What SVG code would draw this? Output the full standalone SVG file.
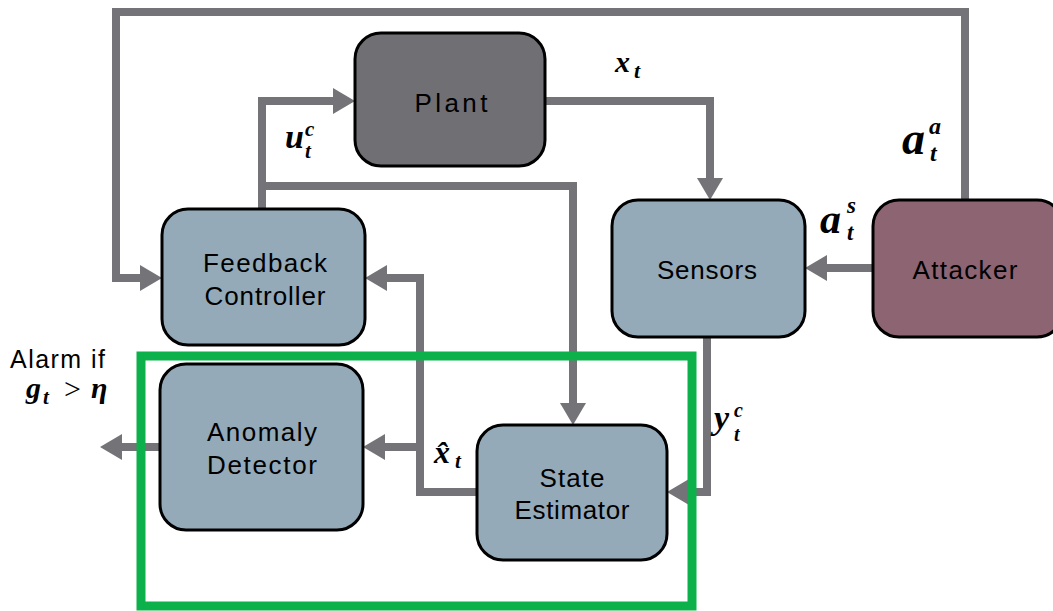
<svg xmlns="http://www.w3.org/2000/svg" width="1053" height="611" viewBox="0 0 1053 611">
<defs>
<style>
.box{stroke:#000;stroke-width:3}
.blue{fill:#94aab9}
.lbl{font-family:"Liberation Sans",Arial,sans-serif;font-size:26px;fill:#000;text-anchor:middle}
.m{font-family:"Liberation Serif","DejaVu Serif",serif;font-style:italic;font-weight:bold;fill:#000}
.c{fill:none;stroke:#747378;stroke-width:8;stroke-linejoin:miter}
</style>
<marker id="ah" markerUnits="userSpaceOnUse" markerWidth="22" markerHeight="26" refX="0" refY="13" orient="auto">
<path d="M0,0 L22,13 L0,26 z" fill="#747378"/>
</marker>
</defs>
<rect width="1053" height="611" fill="#fff"/>
<g id="connectors">
<path class="c" d="M965,200 V12 H116 V278 H140" marker-end="url(#ah)"/>
<path class="c" d="M262,209 V101 H333" marker-end="url(#ah)"/>
<path class="c" d="M262,186 H573 V403" marker-end="url(#ah)"/>
<path class="c" d="M545,101 H710 V178" marker-end="url(#ah)"/>
<path class="c" d="M873,268 H827" marker-end="url(#ah)"/>
<path class="c" d="M707,337 V492 H689" marker-end="url(#ah)"/>
<path class="c" d="M477,492 H420 V278 H387" marker-end="url(#ah)"/>
<path class="c" d="M420,447 H385" marker-end="url(#ah)"/>
<path class="c" d="M160,447 H122" marker-end="url(#ah)"/>
</g>
<g id="plant">
<rect class="box" x="355" y="33" width="190" height="133" rx="26" fill="#6f6f74"/>
<text class="lbl" x="451" y="112" textLength="73">Plant</text>
</g>
<g id="feedback-controller">
<rect class="box blue" x="162" y="209" width="203" height="136" rx="26"/>
<text class="lbl" x="265" y="272" textLength="124">Feedback</text>
<text class="lbl" x="265" y="305" textLength="121">Controller</text>
</g>
<g id="sensors">
<rect class="box blue" x="612" y="200" width="193" height="137" rx="26"/>
<text class="lbl" x="707" y="279" textLength="100">Sensors</text>
</g>
<g id="attacker">
<rect class="box" x="873" y="200" width="190" height="137" rx="26" fill="#8d6472"/>
<text class="lbl" x="965" y="279" textLength="105">Attacker</text>
</g>
<g id="anomaly-detector">
<rect class="box blue" x="160" y="364" width="203" height="166" rx="26"/>
<text class="lbl" x="262" y="441" textLength="110">Anomaly</text>
<text class="lbl" x="262" y="474" textLength="110">Detector</text>
</g>
<g id="state-estimator">
<rect class="box blue" x="477" y="425" width="190" height="135" rx="26"/>
<text class="lbl" x="572" y="487" textLength="65">State</text>
<text class="lbl" x="572" y="519" textLength="115">Estimator</text>
</g>
<g id="monitor-frame">
<rect x="141" y="356" width="551" height="250" fill="none" stroke="#0db14b" stroke-width="9"/>
</g>
<g id="labels">
<text class="m" x="615" y="72" font-size="30">x</text>
<text class="m" x="634" y="78" font-size="22">t</text>
<text class="m" x="285" y="148" font-size="34">u</text>
<text class="m" x="305" y="136" font-size="21">c</text>
<text class="m" x="305" y="158" font-size="21">t</text>
<text class="m" x="902" y="154" font-size="46">a</text>
<text class="m" x="929" y="134" font-size="24">a</text>
<text class="m" x="930" y="161" font-size="24">t</text>
<text class="m" x="820" y="233" font-size="42">a</text>
<text class="m" x="847" y="213" font-size="23">s</text>
<text class="m" x="847" y="240" font-size="23">t</text>
<text class="m" x="714" y="429" font-size="34">y</text>
<text class="m" x="734" y="417" font-size="20">c</text>
<text class="m" x="734" y="441" font-size="20">t</text>
<text class="m" x="434" y="463" font-size="32">x̂</text>
<text class="m" x="455" y="468" font-size="21">t</text>
<text x="10" y="368" font-family="'Liberation Sans',Arial,sans-serif" font-size="25" textLength="95">Alarm if</text>
<text class="m" x="26" y="398" font-size="30">g</text>
<text class="m" x="43" y="404" font-size="21">t</text>
<text x="64" y="399" font-family="'Liberation Serif',serif" font-size="30">&gt;</text>
<text class="m" x="91" y="398" font-size="30">η</text>
</g>
</svg>
